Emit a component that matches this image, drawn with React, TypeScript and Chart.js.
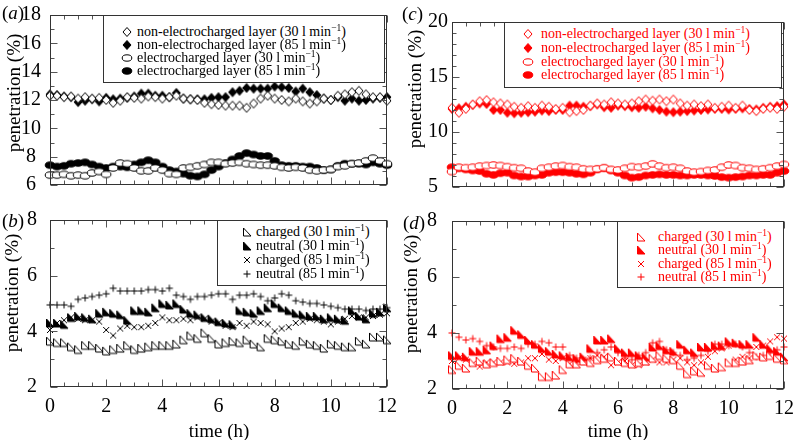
import React, { useEffect, useRef } from 'react';
import { Chart, registerables } from 'chart.js';

Chart.register(...registerables);

const SERIF = '"Liberation Serif", "Times New Roman", serif';

// ---------------- data ----------------
const TIME_H = [
  0, 0.25, 0.5, 0.75, 1, 1.25, 1.5, 1.75, 2, 2.25, 2.5, 2.75, 3, 3.25, 3.5, 3.75,
  4, 4.25, 4.5, 4.75, 5, 5.25, 5.5, 5.75, 6, 6.25, 6.5, 6.75, 7, 7.25, 7.5, 7.75,
  8, 8.25, 8.5, 8.75, 9, 9.25, 9.5, 9.75, 10, 10.25, 10.5, 10.75, 11, 11.25, 11.5, 11.75, 12,
];
const TIME_TICKS = [0, 2, 4, 6, 8, 10, 12];

// (a) black, layers
const A_NONELEC_30 = [
  12.3, 12.3, 12.2, 12.25, 12.1, 12.2, 12.1, 12.15,
  12.0, 11.8, 11.95, 12.2, 12.15, 12.1, 12.25, 12.2,
  12.1, 12.2, 12.3, 12.1, 12.05, 12.0, 11.8, 11.7,
  11.65, 11.6, 11.6, 11.6, 11.45, 11.75, 12.1, 12.3,
  12.1, 12.0, 11.9, 12.1, 11.9, 11.75, 11.9, 12.1,
  12.0, 12.3, 12.4, 12.55, 12.65, 12.4, 12.2, 12.2,
  11.95,
];
const A_NONELEC_85 = [
  12.4, 12.35, 12.25, 12.2, 11.85, 11.95, 12.05, 11.9,
  12.15, 12.05, 12.1, 12.15, 12.25, 12.45, 12.45, 12.3,
  12.3, 12.2, 12.5, 12.1, 12.05, 12.05, 12.05, 12.15,
  12.2, 12.2, 12.55, 12.65, 12.85, 12.8, 12.8, 12.8,
  12.95, 12.9, 12.85, 12.6, 12.8, 12.55, 12.35, 12.1,
  12.0, 12.2, 11.95, 12.1, 11.95, 12.0, 12.1, 12.15,
  12.2,
];
const A_ELEC_30 = [
  6.7, 6.7, 6.75, 6.65, 6.7, 6.65, 6.85, 6.95,
  6.75, 7.2, 7.55, 7.5, 7.2, 7.0, 7.0, 7.2,
  7.05, 6.8, 6.75, 7.2, 7.25, 7.35, 7.45, 7.6,
  7.6, 7.5, 7.55, 7.6, 7.5, 7.45, 7.4, 7.4,
  7.35, 7.25, 7.2, 7.25, 7.2, 7.05, 7.0, 7.05,
  7.1, 7.3, 7.35, 7.5, 7.55, 7.7, 7.9, 7.7,
  7.5,
];
const A_ELEC_85 = [
  7.4, 7.3, 7.35, 7.5, 7.55, 7.6, 7.45, 7.3,
  7.2, 7.3, 7.3, 7.25, 7.45, 7.6, 7.75, 7.6,
  7.3, 7.05, 6.95, 6.8, 6.65, 6.6, 6.75, 7.05,
  7.3, 7.55, 7.8, 8.05, 8.25, 8.15, 8.05, 8.05,
  7.7, 7.4, 7.35, 7.35, 7.3, 7.3, 7.2, 7.05,
  7.1, 7.35, 7.5, 7.5, 7.5, 7.45, 7.6, 7.5,
  7.4,
];

// (b) black, particles
const B_CHARGED_30 = [
  3.65, 3.6, 3.6, 3.45, 3.35, 3.5, 3.5, 3.4,
  3.3, 3.35, 3.4, 3.5, 3.35, 3.4, 3.45, 3.5,
  3.5, 3.5, 3.55, 3.7, 3.85, 3.75, 3.95, 3.75,
  3.55, 3.6, 3.65, 3.6, 3.7, 3.55, 3.45, 3.75,
  3.7, 3.65, 3.55, 3.5, 3.65, 3.55, 3.5, 3.4,
  3.55, 3.5, 3.45, 3.45, 3.65, 3.55, 3.8, 3.8,
  3.7,
];
const B_NEUTRAL_30 = [
  4.3, 4.3, 4.25, 4.5, 4.55, 4.5, 4.45, 4.65,
  4.7, 4.65, 4.6, 4.4, 4.75, 4.75, 4.7, 4.85,
  5.0, 4.95, 5.0, 4.8, 4.65, 4.6, 4.5, 4.45,
  4.35, 4.3, 4.25, 4.75, 4.7, 4.65, 4.75, 4.85,
  5.0, 4.85, 4.75, 4.65, 4.6, 4.55, 4.55, 4.45,
  4.5, 4.45, 4.4, 4.75, 4.55, 4.45, 4.65, 4.7,
  4.85,
];
const B_CHARGED_85 = [
  4.05, 4.3, 4.4, 4.5, 4.45, 4.4, 4.4, 4.35,
  4.05, 3.85, 4.1, 4.2, 4.15, 4.15, 4.2, 4.3,
  4.5, 4.4, 4.4, 4.45, 4.4, 4.5, 4.45, 4.35,
  4.3, 4.2, 4.15, 4.3, 4.2, 4.35, 4.3, 4.25,
  4.0, 4.1, 4.15, 4.3, 4.35, 4.45, 4.4, 4.35,
  4.25, 4.35, 4.45, 4.55, 4.5, 4.5, 4.55, 4.6,
  4.65,
];
const B_NEUTRAL_85 = [
  4.95, 4.95, 4.95, 4.9, 5.15, 5.2, 5.25, 5.3,
  5.35, 5.55, 5.45, 5.45, 5.45, 5.45, 5.5, 5.5,
  5.45, 5.55, 5.3, 5.25, 5.15, 5.25, 5.25, 5.3,
  5.35, 5.35, 5.15, 5.3, 5.3, 5.35, 5.25, 5.1,
  5.2, 5.35, 5.3, 5.1, 5.05, 5.0, 5.0, 4.95,
  4.9, 4.85, 4.8, 4.8, 4.8, 4.75, 4.8, 4.8,
  4.85,
];

// (c) red, layers
const C_NONELEC_30 = [
  12.2, 11.75, 12.1, 12.5, 12.8, 12.9, 12.7, 12.6,
  12.5, 12.3, 12.2, 12.35, 12.2, 12.4, 12.3, 12.1,
  12.2, 11.8, 11.9, 12.0, 12.4, 12.6, 12.5, 12.7,
  12.6, 12.5, 12.6, 12.8, 12.95, 12.85, 12.95, 12.8,
  12.95, 12.6, 12.4, 12.5, 12.35, 12.5, 12.2, 12.3,
  12.4, 12.2, 12.4, 12.0, 11.9, 12.1, 12.2, 12.1,
  12.3,
];
const C_NONELEC_85 = [
  12.1, 12.15, 12.3, 12.45, 12.6, 12.55, 12.0, 12.0,
  11.75, 11.7, 11.75, 11.8, 11.85, 11.95, 11.9, 12.0,
  12.0, 12.4, 12.4, 12.3, 12.35, 12.5, 12.25, 12.2,
  12.4, 12.35, 12.25, 12.2, 12.3, 12.15, 12.0, 11.85,
  11.8, 11.85, 11.9, 11.95, 12.0, 12.05, 12.1, 12.1,
  12.05, 12.1, 12.15, 12.1, 12.05, 12.2, 12.3, 12.35,
  12.5,
];
const C_ELEC_30 = [
  6.4, 6.8, 6.75, 6.8, 6.9, 6.95, 7.0, 6.95,
  6.85, 6.75, 6.7, 6.45, 6.35, 6.7, 6.8, 6.9,
  6.95, 6.85, 6.8, 6.65, 6.6, 6.65, 6.75, 6.6,
  6.55, 6.7, 6.85, 6.8, 6.9, 7.1, 6.9, 6.75,
  6.8, 6.7, 6.45, 6.35, 6.4, 6.5, 6.55, 6.8,
  7.0, 6.95, 6.75, 6.7, 6.6, 6.65, 6.75, 6.9,
  7.05,
];
const C_ELEC_85 = [
  6.8, 6.7, 6.6, 6.5, 6.45, 6.2, 6.1, 6.25,
  6.3, 6.05, 5.95, 5.95, 6.05, 6.1, 6.3, 6.35,
  6.35, 6.3, 6.2, 6.15, 6.3, 6.6, 6.7, 6.5,
  6.3, 6.05, 5.85, 5.9, 6.05, 6.1, 6.15, 6.1,
  6.1, 6.05, 6.05, 6.1, 6.1, 6.05, 6.0, 5.9,
  5.85, 5.9, 5.95, 6.05, 6.05, 6.1, 6.1, 6.3,
  6.45,
];

// (d) red, particles
const D_CHARGED_30 = [
  2.7, 2.85, 2.75, 2.95, 3.0, 2.9, 2.95, 3.0,
  3.05, 3.1, 3.0, 2.85, 2.75, 2.45, 2.45, 2.5,
  2.7, 2.9, 2.9, 3.0, 2.95, 3.05, 3.1, 3.15,
  3.0, 2.95, 2.9, 2.95, 3.0, 3.1, 3.2, 3.1,
  3.05, 2.85, 2.55, 2.65, 2.6, 2.85, 2.75, 2.8,
  2.95, 2.95, 3.0, 3.05, 3.2, 3.15, 3.2, 3.1,
  3.05,
];
const D_NEUTRAL_30 = [
  3.2, 3.2, 3.15, 3.35, 3.35, 3.4, 3.55, 3.8,
  3.85, 4.1, 3.95, 3.75, 3.6, 3.45, 3.35, 3.25,
  3.2, 3.15, 3.1, 3.15, 3.45, 3.75, 3.75, 3.8,
  3.45, 3.3, 3.3, 3.2, 3.15, 3.5, 3.55, 3.4,
  3.35, 3.6, 3.4, 3.3, 3.5, 3.5, 3.55, 3.55,
  3.7, 3.65, 3.6, 3.6, 3.85, 3.6, 3.45, 3.35,
  3.15,
];
const D_CHARGED_85 = [
  3.0, 3.1, 3.05, 2.9, 2.8, 2.95, 2.95, 2.95,
  2.95, 2.9, 2.95, 3.1, 3.1, 3.25, 3.05, 3.0,
  3.1, 2.9, 2.95, 3.05, 3.1, 3.2, 3.15, 2.85,
  2.95, 3.0, 2.85, 2.85, 2.95, 3.05, 2.95, 2.95,
  3.05, 3.1, 2.95, 2.85, 2.95, 3.15, 3.35, 3.45,
  3.55, 3.05, 3.15, 3.1, 3.5, 3.55, 3.7, 3.85,
  3.8,
];
const D_NEUTRAL_85 = [
  4.0, 3.85, 3.75, 3.8, 3.7, 3.55, 3.5, 3.45,
  3.45, 3.5, 3.45, 3.6, 3.6, 3.7, 3.65, 3.5,
  3.5, 3.2, 3.1, 3.05, 3.1, 3.3, 3.4, 3.5,
  3.3, 3.1, 3.05, 3.2, 3.3, 3.65, 3.7, 3.4,
  3.3, 3.2, 3.05, 3.1, 3.2, 3.35, 3.6, 3.6,
  3.55, 3.6, 3.5, 3.3, 3.15, 3.2, 3.3, 3.4,
  3.5,
];

// ---------------- markers ----------------
type Kind =
  | 'diamondOpen' | 'diamondFilled'
  | 'ellipseOpen' | 'ellipseFilled'
  | 'triOpen' | 'triFilled'
  | 'cross' | 'plus';

function drawMarker(ctx: CanvasRenderingContext2D, kind: Kind, color: string, cx: number, cy: number) {
  ctx.save();
  ctx.lineWidth = 1;
  ctx.strokeStyle = color;
  ctx.fillStyle = kind.endsWith('Filled') ? color : '#ffffff';
  ctx.beginPath();
  if (kind === 'diamondOpen' || kind === 'diamondFilled') {
    ctx.moveTo(cx, cy - 4.5);
    ctx.lineTo(cx + 4, cy);
    ctx.lineTo(cx, cy + 4.5);
    ctx.lineTo(cx - 4, cy);
    ctx.closePath();
    ctx.fill();
    ctx.stroke();
  } else if (kind === 'ellipseOpen' || kind === 'ellipseFilled') {
    ctx.ellipse(cx, cy, 4.8, 3.2, 0, 0, Math.PI * 2);
    ctx.fill();
    ctx.stroke();
  } else if (kind === 'triOpen' || kind === 'triFilled') {
    ctx.moveTo(cx - 3.5, cy - 4);
    ctx.lineTo(cx - 3.5, cy + 4);
    ctx.lineTo(cx + 4, cy + 4);
    ctx.closePath();
    ctx.fill();
    ctx.stroke();
  } else if (kind === 'cross') {
    ctx.moveTo(cx - 3, cy - 3);
    ctx.lineTo(cx + 3, cy + 3);
    ctx.moveTo(cx + 3, cy - 3);
    ctx.lineTo(cx - 3, cy + 3);
    ctx.stroke();
  } else {
    ctx.moveTo(cx - 3.5, cy);
    ctx.lineTo(cx + 3.5, cy);
    ctx.moveTo(cx, cy - 3.5);
    ctx.lineTo(cx, cy + 3.5);
    ctx.stroke();
  }
  ctx.restore();
}

function markerImage(kind: Kind, color: string): HTMLCanvasElement {
  const c = document.createElement('canvas');
  c.width = 14;
  c.height = 14;
  const ctx = c.getContext('2d');
  if (ctx) drawMarker(ctx, kind, color, 7, 7);
  return c;
}

// ---------------- panel definitions ----------------
interface SeriesDef { name: string; rate: string; kind: Kind; values: number[] }
interface PanelDef {
  key: string;
  color: string;
  canvas: { left: number; top: number; width: number; height: number };
  padding: { left: number; top: number; right: number; bottom: number };
  yW: number;
  xH: number;
  yMin: number;
  yMax: number;
  yStep: number;
  crossAlign: 'near' | 'center' | 'far';
  tickPad: number;
  xLabels: boolean;
  series: SeriesDef[];
  legend: { left: number; top: number; width: number; height: number; rows: number[]; markerX: number; textX: number };
  letter: { text: string; x: number; y: number };
  yTitle: { x: number; y: number };
  xTitle?: { x: number; y: number };
}

const PANELS: PanelDef[] = [
  {
    key: 'a', color: '#000000',
    canvas: { left: 0, top: 0, width: 400, height: 200 },
    padding: { left: 0, top: 15, right: 13, bottom: 0 },
    yW: 50, xH: 15, yMin: 6, yMax: 18, yStep: 2, crossAlign: 'center', tickPad: 1, xLabels: false,
    series: [
      { name: 'non-electrocharged layer', rate: '30', kind: 'diamondOpen', values: A_NONELEC_30 },
      { name: 'non-electrocharged layer', rate: '85', kind: 'diamondFilled', values: A_NONELEC_85 },
      { name: 'electrocharged layer', rate: '30', kind: 'ellipseOpen', values: A_ELEC_30 },
      { name: 'electrocharged layer', rate: '85', kind: 'ellipseFilled', values: A_ELEC_85 },
    ],
    legend: { left: 103, top: 15, width: 282, height: 68, rows: [16.5, 29.5, 42.5, 55.5], markerX: 24, textX: 34 },
    letter: { text: 'a', x: 2, y: 13 },
    yTitle: { x: 14, y: 93 },
  },
  {
    key: 'b', color: '#000000',
    canvas: { left: 0, top: 200, width: 400, height: 240 },
    padding: { left: 0, top: 20, right: 13, bottom: 0 },
    yW: 50, xH: 53, yMin: 2, yMax: 8, yStep: 2, crossAlign: 'near', tickPad: 5, xLabels: true,
    series: [
      { name: 'charged', rate: '30', kind: 'triOpen', values: B_CHARGED_30 },
      { name: 'neutral', rate: '30', kind: 'triFilled', values: B_NEUTRAL_30 },
      { name: 'charged', rate: '85', kind: 'cross', values: B_CHARGED_85 },
      { name: 'neutral', rate: '85', kind: 'plus', values: B_NEUTRAL_85 },
    ],
    legend: { left: 217, top: 220, width: 170, height: 66, rows: [12, 26, 40, 53.5], markerX: 30, textX: 39 },
    letter: { text: 'b', x: 2, y: 221 },
    yTitle: { x: 12, y: 293 },
    xTitle: { x: 219, y: 431 },
  },
  {
    key: 'c', color: '#ff0000',
    canvas: { left: 398, top: 0, width: 397, height: 200 },
    padding: { left: 30, top: 22, right: 11, bottom: 0 },
    yW: 24, xH: 13, yMin: 5, yMax: 20, yStep: 5, crossAlign: 'far', tickPad: 0, xLabels: false,
    series: [
      { name: 'non-electrocharged layer', rate: '30', kind: 'diamondOpen', values: C_NONELEC_30 },
      { name: 'non-electrocharged layer', rate: '85', kind: 'diamondFilled', values: C_NONELEC_85 },
      { name: 'electrocharged layer', rate: '30', kind: 'ellipseOpen', values: C_ELEC_30 },
      { name: 'electrocharged layer', rate: '85', kind: 'ellipseFilled', values: C_ELEC_85 },
    ],
    legend: { left: 504, top: 22, width: 278, height: 66, rows: [11.5, 25.5, 39.5, 53], markerX: 24, textX: 37 },
    letter: { text: 'c', x: 402, y: 14 },
    yTitle: { x: 415, y: 89 },
  },
  {
    key: 'd', color: '#ff0000',
    canvas: { left: 398, top: 200, width: 397, height: 240 },
    padding: { left: 0, top: 21, right: 11, bottom: 0 },
    yW: 54, xH: 51, yMin: 2, yMax: 8, yStep: 2, crossAlign: 'near', tickPad: 7, xLabels: true,
    series: [
      { name: 'charged', rate: '30', kind: 'triOpen', values: D_CHARGED_30 },
      { name: 'neutral', rate: '30', kind: 'triFilled', values: D_NEUTRAL_30 },
      { name: 'charged', rate: '85', kind: 'cross', values: D_CHARGED_85 },
      { name: 'neutral', rate: '85', kind: 'plus', values: D_NEUTRAL_85 },
    ],
    legend: { left: 617, top: 221, width: 167, height: 67, rows: [15.5, 29, 42.5, 56], markerX: 24, textX: 41 },
    letter: { text: 'd', x: 403, y: 223 },
    yTitle: { x: 411, y: 294 },
    xTitle: { x: 618, y: 431 },
  },
];

// ---------------- frame + inward ticks plugin ----------------
function framePlugin(p: PanelDef) {
  return {
    id: 'frame_' + p.key,
    afterDraw(chart: any) {
      const { ctx, chartArea } = chart;
      const { left, right, top, bottom } = chartArea;
      const xs = chart.scales.x;
      const ys = chart.scales.y;
      const L = Math.round(left) + 0.5;
      const R = Math.round(right) - 0.5;
      const T = Math.round(top) + 0.5;
      const B = Math.round(bottom) - 0.5;
      ctx.save();
      ctx.lineWidth = 1;
      ctx.strokeStyle = '#555555';
      ctx.beginPath();
      const xt = TIME_TICKS;
      for (let i = 0; i < xt.length; i++) {
        const v0 = xt[i];
        const major = Math.round(xs.getPixelForValue(v0)) + 0.5;
        ctx.moveTo(major, B); ctx.lineTo(major, B - 7);
        ctx.moveTo(major, T); ctx.lineTo(major, T + 7);
        if (i < xt.length - 1) {
          for (let k = 1; k < 4; k++) {
            const v = v0 + ((xt[i + 1] - v0) * k) / 4;
            const px = Math.round(xs.getPixelForValue(v)) + 0.5;
            ctx.moveTo(px, B); ctx.lineTo(px, B - 4);
            ctx.moveTo(px, T); ctx.lineTo(px, T + 4);
          }
        }
      }
      for (let v = p.yMin; v <= p.yMax; v += 1) {
        const py = Math.round(ys.getPixelForValue(v)) + 0.5;
        const isMajor = (v - p.yMin) % p.yStep === 0;
        const len = isMajor ? 7 : 4;
        ctx.moveTo(L, py); ctx.lineTo(L + len, py);
        ctx.moveTo(R, py); ctx.lineTo(R - len, py);
      }
      ctx.stroke();
      ctx.strokeStyle = '#333333';
      ctx.strokeRect(L, T, R - L, B - T);
      ctx.restore();
    },
  };
}

function ChartPanel({ p }: { p: PanelDef }) {
  const ref = useRef<HTMLCanvasElement>(null);
  useEffect(() => {
    const canvas = ref.current;
    if (!canvas) return;
    const font = { family: SERIF, size: 20 };
    const chart = new Chart(canvas, {
      type: 'scatter',
      data: {
        datasets: p.series.map((s) => ({
          label: `${s.name} (${s.rate} l min−1)`,
          data: TIME_H.map((t, i) => ({ x: t, y: s.values[i] })),
          pointStyle: markerImage(s.kind, p.color) as any,
          pointRadius: 4,
          showLine: false,
          clip: false as any,
        })),
      },
      options: {
        responsive: false,
        maintainAspectRatio: false,
        animation: false,
        events: [],
        layout: { padding: p.padding },
        plugins: { legend: { display: false }, tooltip: { enabled: false } },
        scales: {
          x: {
            type: 'linear',
            min: 0,
            max: 12,
            grid: { display: false },
            border: { display: false },
            afterBuildTicks: (scale: any) => {
              scale.ticks = TIME_TICKS.map((v) => ({ value: v }));
            },
            ticks: { display: p.xLabels, font, color: '#000', padding: 0, maxRotation: 0, autoSkip: false },
            afterFit: (scale: any) => { scale.height = p.xH; },
          },
          y: {
            type: 'linear',
            min: p.yMin,
            max: p.yMax,
            grid: { display: false },
            border: { display: false },
            ticks: { stepSize: p.yStep, font, color: '#000', padding: p.tickPad, crossAlign: p.crossAlign },
            afterFit: (scale: any) => { scale.width = p.yW; },
          },
        },
      } as any,
      plugins: [framePlugin(p)],
    });
    return () => chart.destroy();
  }, [p]);
  const c = p.canvas;
  return (
    <canvas
      ref={ref}
      width={c.width}
      height={c.height}
      style={{ position: 'absolute', left: c.left, top: c.top, width: c.width, height: c.height }}
    />
  );
}

function MarkerIcon({ kind, color, x, y }: { kind: Kind; color: string; x: number; y: number }) {
  const ref = useRef<HTMLCanvasElement>(null);
  useEffect(() => {
    const c = ref.current;
    if (!c) return;
    const ctx = c.getContext('2d');
    if (!ctx) return;
    ctx.clearRect(0, 0, 14, 14);
    drawMarker(ctx, kind, color, 7, 7);
  }, [kind, color]);
  return <canvas ref={ref} width={14} height={14} style={{ position: 'absolute', left: x - 7, top: y - 7 }} />;
}

function Legend({ p }: { p: PanelDef }) {
  const l = p.legend;
  return (
    <div
      style={{
        position: 'absolute', left: l.left, top: l.top, width: l.width, height: l.height,
        boxSizing: 'border-box', border: '1px solid #333', background: '#fff',
      }}
    >
      {p.series.map((s, i) => (
        <React.Fragment key={i}>
          <MarkerIcon kind={s.kind} color={p.color} x={l.markerX - 1} y={l.rows[i] - 1} />
          <div
            style={{
              position: 'absolute', left: l.textX - 1, top: l.rows[i] - 1 - 9, height: 18, lineHeight: '18px',
              fontFamily: SERIF, fontSize: 14, color: p.color, whiteSpace: 'nowrap',
            }}
          >
            {s.name} ({s.rate} l min
            <span style={{ fontSize: 9.5, position: 'relative', top: -5 }}>−1</span>)
          </div>
        </React.Fragment>
      ))}
    </div>
  );
}

export default function App() {
  return (
    <div
      style={{
        position: 'absolute', left: 0, top: 0, width: 795, height: 440, overflow: 'hidden',
        background: '#fff', fontFamily: SERIF, color: '#000',
      }}
    >
      {PANELS.map((p) => (
        <React.Fragment key={p.key}>
          <ChartPanel p={p} />
          <Legend p={p} />
          <div
            style={{
              position: 'absolute', left: p.letter.x, top: p.letter.y - 11, height: 22, lineHeight: '22px',
              fontSize: 19, fontFamily: SERIF, whiteSpace: 'nowrap',
            }}
          >
            (<i>{p.letter.text}</i>)
          </div>
          <div
            style={{
              position: 'absolute', left: p.yTitle.x, top: p.yTitle.y, fontSize: 19, fontFamily: SERIF,
              whiteSpace: 'nowrap', lineHeight: '20px', transform: 'translate(-50%, -50%) rotate(-90deg)',
            }}
          >
            penetration (%)
          </div>
          {p.xTitle && (
            <div
              style={{
                position: 'absolute', left: p.xTitle.x, top: p.xTitle.y, fontSize: 19, fontFamily: SERIF,
                whiteSpace: 'nowrap', lineHeight: '20px', transform: 'translate(-50%, -50%)',
              }}
            >
              time (h)
            </div>
          )}
        </React.Fragment>
      ))}
    </div>
  );
}
